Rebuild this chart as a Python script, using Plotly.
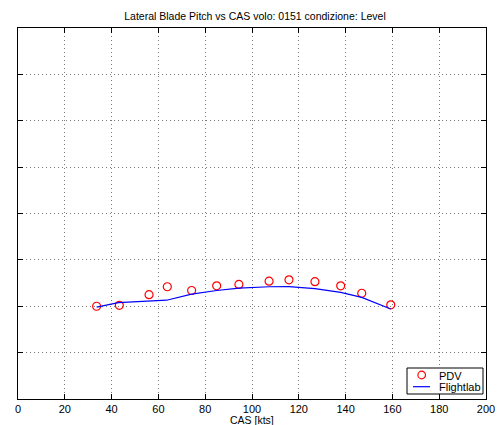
import plotly.graph_objects as go

# Data (y in arbitrary units; y-axis labels are hidden in the original)
pdv_cas = [33.6, 43.3, 56.0, 63.8, 74.2, 84.9, 94.4, 107.3, 115.8, 126.9, 137.9, 146.9, 159.3]
pdv_val = [-2.00, -1.98, -1.75, -1.58, -1.66, -1.56, -1.53, -1.46, -1.43, -1.47, -1.56, -1.72, -1.97]

fl_cas = [33.6, 42.9, 63.5, 74.2, 84.9, 94.4, 107.3, 115.8, 126.9, 137.9, 146.9, 159.3]
fl_val = [-2.02, -1.92, -1.87, -1.74, -1.66, -1.61, -1.58, -1.575, -1.62, -1.70, -1.81, -2.06]

x_ticks = [0, 20, 40, 60, 80, 100, 120, 140, 160, 180, 200]

title_text = "Lateral Blade Pitch vs CAS volo: 0151 condizione: Level"
x_label = "CAS [kts]"
legend_names = ["PDV", "Flightlab"]

FONT = "Liberation Sans, Arial, Helvetica, sans-serif"
W, H = 497, 425
L, R, T, B = 18, 11, 28, 26
PW, PH = W - L - R, H - T - B

def px(xp):  # pixel x -> paper
    return (xp - L) / PW

def py(yp):  # pixel y -> paper
    return (H - B - yp) / PH

fig = go.Figure()
fig.add_trace(go.Scatter(
    x=pdv_cas, y=pdv_val, mode="markers", name=legend_names[0], showlegend=False,
    marker=dict(symbol="circle-open", size=8, color="#ff0000", line=dict(width=1.2, color="#ff0000")),
))
fig.add_trace(go.Scatter(
    x=fl_cas, y=fl_val, mode="lines", name=legend_names[1], showlegend=False,
    line=dict(color="#0000ff", width=1.2),
))

axis_common = dict(
    showline=True, linecolor="black", linewidth=1, mirror="ticks",
    ticks="inside", ticklen=5, tickcolor="black", tickwidth=1,
    showgrid=True, gridcolor="#7a7a7a", gridwidth=1, griddash="1px,3px",
    zeroline=False, automargin=False,
    tickfont=dict(family=FONT, size=11, color="black"),
)

# custom compact legend (MATLAB style)
shapes = [
    dict(type="rect", xref="paper", yref="paper", x0=px(407), x1=px(483), y0=py(394), y1=py(368),
         line=dict(color="black", width=1), fillcolor="white", layer="above"),
    dict(type="circle", xref="paper", yref="paper", xsizemode="pixel", ysizemode="pixel",
         xanchor=px(421.7), yanchor=py(375), x0=-3.8, x1=3.8, y0=-3.8, y1=3.8,
         line=dict(color="#ff0000", width=1.2), layer="above"),
    dict(type="line", xref="paper", yref="paper", x0=px(413), x1=px(430), y0=py(386.7), y1=py(386.7),
         line=dict(color="#0000ff", width=1.2), layer="above"),
]
annotations = [
    dict(text=legend_names[0], xref="paper", yref="paper", x=px(436.5), y=py(375.5),
         xanchor="left", yanchor="middle", showarrow=False,
         font=dict(family=FONT, size=11, color="black")),
    dict(text=legend_names[1], xref="paper", yref="paper", x=px(436.5), y=py(387),
         xanchor="left", yanchor="middle", showarrow=False,
         font=dict(family=FONT, size=11, color="black")),
    dict(text=x_label, xref="paper", yref="paper", x=0.5, y=py(420), xanchor="center", yanchor="middle",
         showarrow=False, font=dict(family=FONT, size=10.5, color="black")),
]

fig.update_layout(
    width=W, height=H,
    margin=dict(l=L, r=R, t=T, b=B, autoexpand=False),
    paper_bgcolor="white", plot_bgcolor="white",
    font=dict(family=FONT, size=10, color="black"),
    title=dict(text=title_text, x=(255 / W), xanchor="center", y=1 - 16 / H, yanchor="middle",
               font=dict(family=FONT, size=10.5, color="black")),
    xaxis=dict(range=[0, 200], tickmode="array", tickvals=x_ticks,
               ticktext=[str(v) for v in x_ticks], **axis_common),
    yaxis=dict(range=[-4, 4], dtick=1, tick0=0, showticklabels=False, **axis_common),
    showlegend=False,
    shapes=shapes,
    annotations=annotations,
)

fig.write_html("out.html")
